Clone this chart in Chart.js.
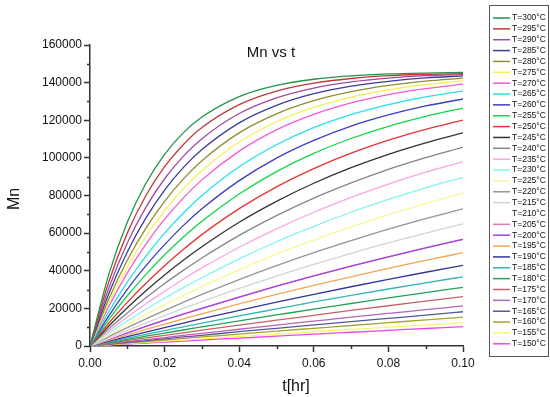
<!DOCTYPE html>
<html>
<head>
<meta charset="utf-8">
<script src="https://cdn.jsdelivr.net/npm/chart.js@4.4.1/dist/chart.umd.min.js"></script>
<style>
html,body{margin:0;padding:0;background:#fff}
</style>
</head>
<body>
<canvas id="mnChart" width="550" height="397"></canvas>
<script>
// time points (hr) and Mn, one array per temperature
const times = [0, 0.005, 0.01, 0.015, 0.02, 0.025, 0.03, 0.04, 0.05, 0.06, 0.07, 0.08, 0.09, 0.1];
const temps = [300, 295, 290, 285, 280, 275, 270, 265, 260, 255, 250, 245, 240, 235, 230,
               225, 220, 215, 210, 205, 200, 195, 190, 185, 180, 175, 170, 165, 160, 155, 150];

const mn300 = [0, 37800, 65800, 86500, 101900, 113300, 121700, 132600, 138500, 141800, 143600, 144600, 145100, 145400];
const mn295 = [0, 33900, 60000, 80000, 95300, 107000, 116100, 128300, 135500, 139700, 142200, 143700, 144400, 144800];
const mn290 = [0, 30500, 54700, 73800, 88900, 100800, 110200, 123600, 131900, 137100, 140400, 142400, 143700, 144300];
const mn285 = [0, 27600, 50000, 68100, 82900, 94800, 104400, 118600, 127900, 134100, 138100, 140700, 142500, 143600];
const mn280 = [0, 24900, 45600, 62700, 76900, 88700, 98500, 113300, 123400, 130400, 135200, 138500, 140800, 142400];
const mn275 = [0, 22800, 42000, 58200, 71900, 83500, 93200, 108400, 119200, 126800, 132300, 136200, 139000, 140900];
const mn270 = [0, 20900, 38900, 54200, 67400, 78600, 88300, 103600, 114900, 123100, 129200, 133600, 136800, 139200];
const mn265 = [0, 18100, 33900, 47800, 60000, 70600, 80000, 95300, 107000, 116100, 123000, 128300, 132400, 135500];
const mn260 = [0, 15900, 30100, 42700, 53900, 64000, 72900, 87900, 99900, 109300, 116900, 122800, 127600, 131300];
const mn255 = [0, 14000, 26700, 38100, 48500, 57800, 66300, 80800, 92700, 102400, 110300, 116800, 122100, 126500];
const mn250 = [0, 12100, 23200, 33400, 42700, 51300, 59200, 73000, 84600, 94300, 102500, 109400, 115200, 120100];
const mn245 = [0, 10500, 20300, 29400, 37800, 45600, 52800, 65800, 76900, 86500, 94800, 101900, 108000, 113300];
const mn240 = [0, 9100, 17600, 25600, 33200, 40200, 46800, 58800, 69300, 78600, 86700, 93900, 100100, 105700];
const mn235 = [0, 7900, 15400, 22500, 29100, 35500, 41500, 52500, 62300, 71100, 79000, 86100, 92400, 98000];
const mn230 = [0, 6800, 13300, 19500, 25400, 31000, 36300, 46300, 55400, 63600, 71100, 77900, 84100, 89700];
const mn225 = [0, 5800, 11400, 16800, 21900, 26800, 31600, 40500, 48800, 56300, 63300, 69800, 75700, 81200];
const mn220 = [0, 5000, 9800, 14400, 18900, 23200, 27400, 35300, 42700, 49600, 56000, 62100, 67700, 72900];
const mn215 = [0, 4200, 8300, 12300, 16200, 20000, 23600, 30600, 37200, 43400, 49300, 54800, 60000, 64900];
const mn210 = [0, 3900, 7700, 11300, 14900, 18400, 21800, 28300, 34500, 40400, 45900, 51100, 56100, 60800];
const mn205 = [0, 3500, 7000, 10400, 13700, 16900, 20000, 26000, 31800, 37300, 42500, 47400, 52200, 56700];
const mn200 = [0, 3500, 7000, 10400, 13700, 16900, 20000, 26000, 31800, 37300, 42500, 47400, 52200, 56700];
const mn195 = [0, 3000, 5900, 8800, 11600, 14400, 17100, 22400, 27400, 32200, 36800, 41300, 45500, 49600];
const mn190 = [0, 2500, 5000, 7400, 9800, 12100, 14500, 18900, 23300, 27500, 31500, 35400, 39200, 42900];
const mn185 = [0, 2100, 4200, 6200, 8200, 10200, 12200, 16000, 19700, 23400, 26900, 30300, 33600, 36800];
const mn180 = [0, 1750, 3500, 5200, 6900, 8500, 10200, 13400, 16500, 19600, 22600, 25600, 28400, 31200];
const mn175 = [0, 1400, 2900, 4300, 5700, 7000, 8400, 11100, 13700, 16300, 18900, 21400, 23800, 26200];
const mn170 = [0, 1150, 2300, 3400, 4500, 5600, 6700, 8900, 11100, 13200, 15300, 17300, 19300, 21300];
const mn165 = [0, 970, 1900, 2900, 3800, 4800, 5700, 7600, 9400, 11200, 13000, 14700, 16400, 18200];
const mn160 = [0, 800, 1600, 2400, 3200, 4000, 4800, 6300, 7900, 9400, 10900, 12400, 13900, 15300];
const mn155 = [0, 650, 1300, 1900, 2600, 3200, 3800, 5100, 6300, 7600, 8800, 10000, 11200, 12400];
const mn150 = [0, 530, 1060, 1600, 2100, 2600, 3200, 4200, 5200, 6300, 7300, 8300, 9300, 10300];

const series = [mn300, mn295, mn290, mn285, mn280, mn275, mn270, mn265, mn260, mn255, mn250,
                mn245, mn240, mn235, mn230, mn225, mn220, mn215, mn210, mn205, mn200, mn195,
                mn190, mn185, mn180, mn175, mn170, mn165, mn160, mn155, mn150];

const colors = ['#23924a', '#c03a3a', '#a04aa0', '#3c3c9c', '#8e8e2e', '#f2f25a', '#f25ad6', '#22e2ea',
                '#3c3cc4', '#14d448', '#e63434', '#333333', '#858585', '#f8a6e2', '#86f2f2', '#f8f89a',
                '#959595', '#d4d4d4', '#ffffff', '#e07ab8', '#a444e2', '#f2a656', '#34349a', '#34b4b2',
                '#24a256', '#c46464', '#b466b4', '#56569a', '#a4a434', '#f8f866', '#f244f2'];

const FONT = 'Arial, "Liberation Sans", sans-serif';

const datasets = series.map((vals, i) => ({
  label: 'T=' + temps[i] + '°C',
  data: vals.map((v, j) => ({x: times[j], y: v})),
  borderColor: colors[i],
  backgroundColor: colors[i],
  borderWidth: 1.3,
  pointRadius: 0,
  cubicInterpolationMode: 'monotone',
  order: temps[i] === 205 ? 1 : 0
}));

const isMajorX = v => Math.round(v * 100) % 2 === 0;
const isMajorY = v => v % 20000 === 0;

const extras = {
  id: 'extras',
  afterDraw(chart) {
    const c = chart.ctx;
    const xs = chart.scales.x, ys = chart.scales.y;
    c.save();

    // short minor ticks
    c.strokeStyle = '#333';
    c.lineWidth = 1.5;
    c.beginPath();
    xs.ticks.forEach(t => {
      if (isMajorX(t.value)) return;
      const px = Math.round(xs.getPixelForValue(t.value)) + 0.5;
      c.moveTo(px, ys.bottom);
      c.lineTo(px, ys.bottom + 3);
    });
    ys.ticks.forEach(t => {
      if (isMajorY(t.value)) return;
      const py = Math.round(ys.getPixelForValue(t.value)) + 0.5;
      c.moveTo(xs.left, py);
      c.lineTo(xs.left - 3, py);
    });
    c.stroke();

    c.fillStyle = '#111';
    c.textBaseline = 'middle';
    c.textAlign = 'center';
    c.font = '15px ' + FONT;
    c.fillText('Mn vs t', 271, 53);
    c.font = '16px ' + FONT;
    c.fillText('t[hr]', 296, 387);
    c.save();
    c.translate(15, 199);
    c.rotate(-Math.PI / 2);
    c.fillText('Mn', 0, 0);
    c.restore();

    // legend box
    c.strokeStyle = '#555';
    c.lineWidth = 1;
    c.strokeRect(489.5, 5.5, 59, 351);
    c.textAlign = 'left';
    c.font = '8.5px ' + FONT;
    temps.forEach((t, i) => {
      const y = 18 + i * 10.86;
      c.strokeStyle = colors[i];
      c.lineWidth = 1.5;
      c.beginPath();
      c.moveTo(493, y);
      c.lineTo(510, y);
      c.stroke();
      c.fillStyle = '#111';
      c.fillText('T=' + t + '°C', 512, y);
    });
    c.restore();
  }
};

new Chart(document.getElementById('mnChart'), {
  type: 'line',
  data: {datasets: datasets},
  plugins: [extras],
  options: {
    responsive: false,
    animation: false,
    layout: {padding: {top: 45, right: 87, bottom: 0, left: 0}},
    plugins: {legend: {display: false}, tooltip: {enabled: false}},
    scales: {
      x: {
        type: 'linear',
        min: 0,
        max: 0.1,
        afterFit: function(scale) { scale.height = 51; },
        border: {display: true, color: '#333', width: 1.5},
        grid: {
          drawOnChartArea: false, drawTicks: true, tickLength: 6, tickWidth: 1.5,
          tickColor: ctx => (ctx.tick && isMajorX(ctx.tick.value)) ? '#333' : 'rgba(0,0,0,0)'
        },
        ticks: {
          stepSize: 0.01,
          autoSkip: false,
          maxRotation: 0,
          padding: 4,
          color: '#111',
          font: {size: 12, family: FONT},
          callback: function(v) { return isMajorX(v) ? v.toFixed(2) : ''; }
        }
      },
      y: {
        min: 0,
        max: 160000,
        afterFit: function(scale) { scale.width = 90; },
        border: {display: true, color: '#333', width: 1.5},
        grid: {
          drawOnChartArea: false, drawTicks: true, tickLength: 6, tickWidth: 1.5,
          tickColor: ctx => (ctx.tick && isMajorY(ctx.tick.value)) ? '#333' : 'rgba(0,0,0,0)'
        },
        ticks: {
          stepSize: 10000,
          autoSkip: false,
          padding: 2,
          color: '#111',
          font: {size: 12, family: FONT},
          callback: function(v) { return isMajorY(v) ? String(v) : ''; }
        }
      }
    }
  }
});
</script>
</body>
</html>
